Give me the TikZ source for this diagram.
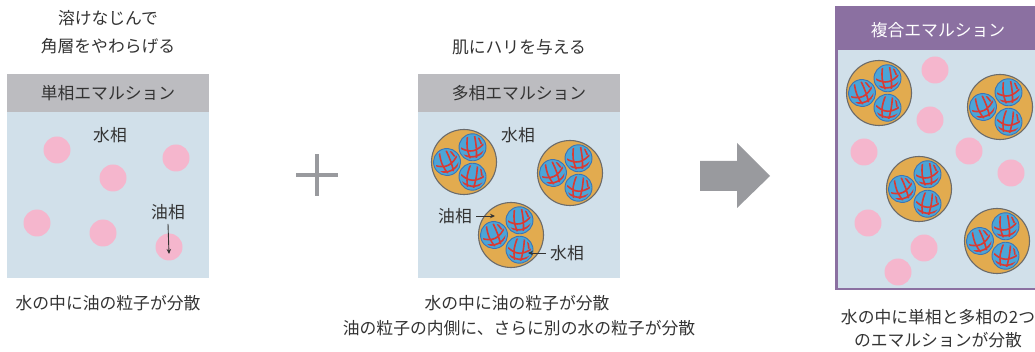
\documentclass[tikz,border=0pt]{standalone}
\usepackage{fontspec}
\newfontfamily\jp{Noto Sans CJK JP}
\usetikzlibrary{arrows.meta}
\definecolor{water}{HTML}{D1E0EA}
\definecolor{hdgray}{HTML}{BCBCC0}
\definecolor{pinkoil}{HTML}{F5B6CD}
\definecolor{oil}{HTML}{E2AB4F}
\definecolor{ring}{HTML}{6B6B6B}
\definecolor{drop}{HTML}{4BA5D8}
\definecolor{dropedge}{HTML}{3B74B5}
\definecolor{vein}{HTML}{D93A33}
\definecolor{ink}{HTML}{333333}
\definecolor{mauve}{HTML}{8B70A1}
\definecolor{signgray}{HTML}{999A9E}
\tikzset{
  txt/.style={font=\jp\fontsize{16.8}{20}\selectfont, text=ink, inner sep=0pt, align=center},
  pinkdrop/.style={circle, fill=pinkoil, minimum size=27pt, inner sep=0pt},
  lbl/.style={draw=ink, line width=0.9pt, -{Stealth[length=5pt,width=4.5pt]}},
  % a blue water droplet with red veins
  pics/wdrop/.style={code={
    \fill[drop] (0,0) circle (13.5);
    \begin{scope}
      \clip (0,0) circle (11.5);
      \draw[vein, line width=1.6pt, line cap=round]
        (-4,-12) .. controls (-6,0) .. (-3,12)
        (3,-12) .. controls (4,0) .. (3,12)
        (-13,-1) .. controls (-3,6) and (4,5) .. (13,-4)
        (-12,6) .. controls (-2,11) and (4,11) .. (12,4)
        (7,-9) -- (9,-3);
    \end{scope}
    \draw[dropedge, line width=0.9pt] (0,0) circle (13.5);
  }},
  % an oil particle holding three water droplets
  pics/compound/.style={code={
    \fill[oil] (0,0) circle (32.5);
    \draw[ring, line width=1.1pt] (0,0) circle (32.5);
    \pic[rotate=20] at (180:17) {wdrop};
    \pic[rotate=-10] at (60:17) {wdrop};
    \pic[rotate=5] at (-60:17) {wdrop};
  }}
}
\begin{document}
\begin{tikzpicture}[x=1pt,y=-1pt]
\useasboundingbox (0,0) rectangle (1035,352);
\clip (0,0) rectangle (1035,352);

% ---- single-phase emulsion ----
\node[txt] (capL1) at (108,18) {溶けなじんで};
\node[txt] (capL2) at (108,46) {角層をやわらげる};
\fill[hdgray] (7,74) rectangle (209,112);
\fill[water] (7,112) rectangle (209,278);
\node[txt] (hdL) at (108,93) {単相エマルション};
\node[pinkdrop] (pL1) at (57,150) {};
\node[pinkdrop] (pL2) at (176,158) {};
\node[pinkdrop] (pL3) at (113,178) {};
\node[pinkdrop] (pL4) at (37,223) {};
\node[pinkdrop] (pL5) at (103,233) {};
\node[pinkdrop] (pL6) at (169,247) {};
\node[txt] (waterL) at (110,135) {水相};
\node[txt] (oilL) at (168,212) {油相};
\draw[lbl] (oilL.south) ++(0,4) -- ([yshift=-7pt]pL6.center);
\node[txt] (botL) at (108,303) {水の中に油の粒子が分散};

% ---- plus sign ----
\coordinate (plusC) at (317,175);
\draw[signgray, line width=4pt] ([xshift=-21pt]plusC) -- ([xshift=21pt]plusC)
  ([yshift=-21pt]plusC) -- ([yshift=21pt]plusC);

% ---- multiple emulsion ----
\node[txt] (capM) at (519,47) {肌にハリを与える};
\fill[hdgray] (418,74) rectangle (620,112);
\fill[water] (418,112) rectangle (620,278);
\node[txt] (hdM) at (519,93) {多相エマルション};
\node[txt] (waterM) at (518,135) {水相};
\pic (cM1) at (464,162) {compound};
\pic (cM2) at (570,173) {compound};
\pic (cM3) at (511,235) {compound};
\coordinate (oilTip) at (495,216);
\coordinate (dropTip) at (528,253);
\node[txt] (oilM) at (455,216) {油相};
\node[txt] (waterM2) at (567,253) {水相};
\draw[lbl] ([xshift=4pt]oilM.east) -- (oilTip);
\draw[lbl] ([xshift=-4pt]waterM2.west) -- (dropTip);
\node[txt] (botM1) at (517,303) {水の中に油の粒子が分散};
\node[txt] (botM2) at (519,328) {油の粒子の内側に、さらに別の水の粒子が分散};

% ---- big arrow ----
\fill[signgray] (700,161) -- (737,161) -- (737,143) -- (770,176)
  -- (737,208) -- (737,191) -- (700,191) -- cycle;

% ---- compound emulsion ----
\fill[water] (836,50) rectangle (1045,289);
\fill[mauve] (836,6) rectangle (1045,50);
\draw[mauve, line width=2.6pt] (836.3,7) rectangle (1045,289);
\node[txt, text=white] (hdR) at (938,30) {複合エマルション};
\node[pinkdrop] (pR1) at (935,70) {};
\node[pinkdrop] (pR2) at (930,120) {};
\node[pinkdrop] (pR3) at (864,152) {};
\node[pinkdrop] (pR4) at (969,151) {};
\node[pinkdrop] (pR5) at (1011,173) {};
\node[pinkdrop] (pR6) at (868,223) {};
\node[pinkdrop] (pR7) at (924,248) {};
\node[pinkdrop] (pR8) at (898,272) {};
\pic (cR1) at (879,93) {compound};
\pic (cR2) at (1000,107) {compound};
\pic (cR3) at (919,189) {compound};
\pic (cR4) at (997,241) {compound};
\node[txt] (botR1) at (938,317) {水の中に単相と多相の2つ};
\node[txt] (botR2) at (938,340) {のエマルションが分散};
\end{tikzpicture}
\end{document}
